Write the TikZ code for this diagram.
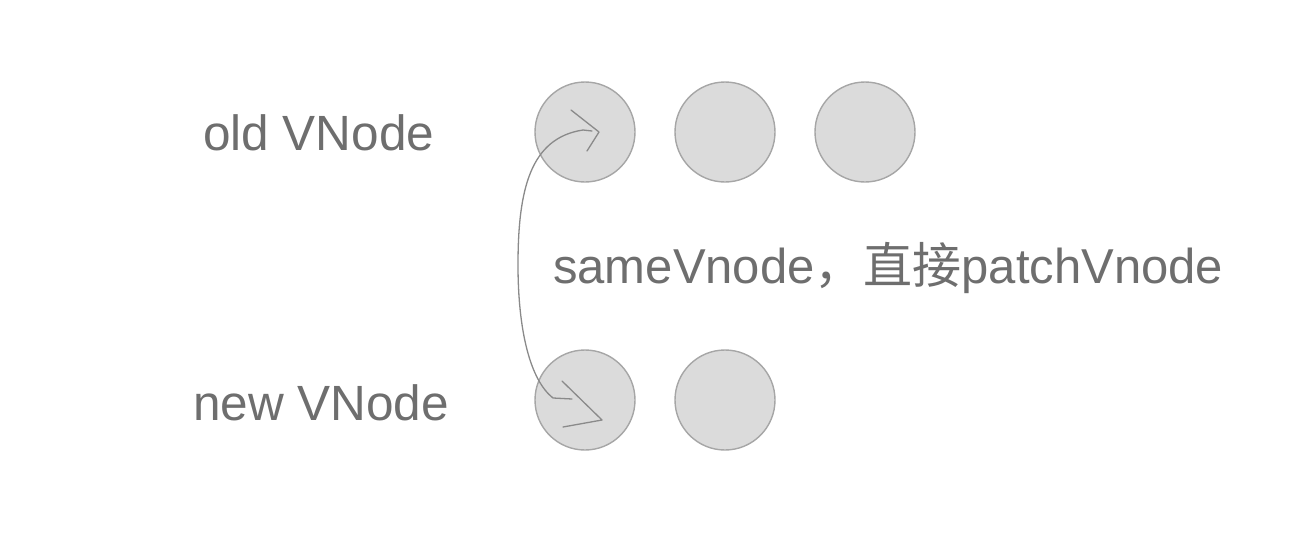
\documentclass[tikz,border=0pt]{standalone}
\usepackage{fontspec}
\setmainfont{Liberation Sans}
\newfontfamily\cjk{Noto Sans CJK SC}
\definecolor{txtgray}{HTML}{6E6E6E}
\definecolor{circfill}{HTML}{DBDBDB}
\definecolor{circline}{HTML}{A6A6A6}
\definecolor{linkgray}{HTML}{8A8A8A}
\begin{document}
\begin{tikzpicture}[x=1pt,y=-1pt,
  vcircle/.style={circle,draw=circline,fill=circfill,line width=1.4pt,minimum size=100pt,inner sep=0pt},
  lbl/.style={text=txtgray,font=\fontsize{49.5}{56}\selectfont,inner sep=0pt,anchor=base west},
  link/.style={draw=linkgray,line width=1.3pt,line cap=round,line join=round}]
\useasboundingbox (0,0) rectangle (1306,554);
\node[vcircle] (o1) at (585,132) {};
\node[vcircle] (o2) at (725,132) {};
\node[vcircle] (o3) at (865,132) {};
\node[vcircle] (n1) at (585,400) {};
\node[vcircle] (n2) at (725,400) {};
\node[lbl] (oldl) at (203,150) {old VNode};
\node[lbl] (newl) at (193,420) {new VNode};
\node[lbl,font=\fontsize{49}{56}\selectfont] (msg) at (553,283) {sameVnode{\cjk ，直接}patchVnode};
% hand-drawn link
\coordinate (b0) at (572,399);
\coordinate (b1) at (553,398);
\coordinate (mid) at (518,265);
\coordinate (t1) at (583,130);
\coordinate (t2) at (592,131);
\path[link] (b0) -- (b1) .. controls (530,380) and (518,330) .. (mid)
  .. controls (518,190) and (530,138) .. (t1) -- (t2);
\coordinate (ta) at (571,110);
\coordinate (tt) at (599,132);
\coordinate (tb) at (587,151);
\path[link] (ta) -- (tt) -- (tb);
\coordinate (ba) at (562,381);
\coordinate (bt) at (602,420);
\coordinate (bb) at (563,427);
\path[link] (ba) -- (bt) -- (bb);
\end{tikzpicture}
\end{document}
